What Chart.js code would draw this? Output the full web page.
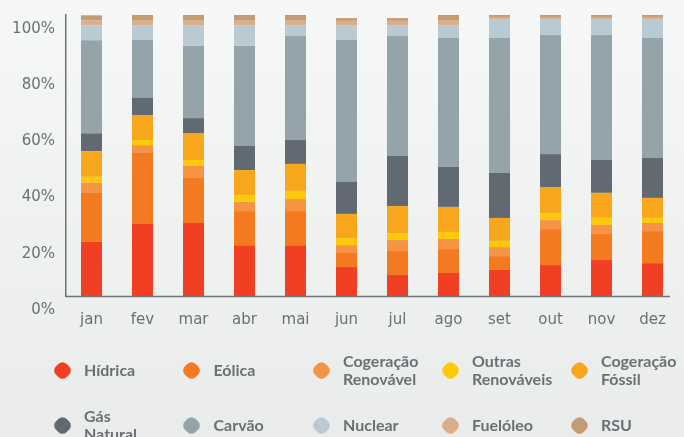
<!DOCTYPE html>
<html>
<head>
<meta charset="utf-8">
<script src="https://cdn.jsdelivr.net/npm/chart.js@4/dist/chart.umd.min.js"></script>
<style>
  html, body { margin: 0; padding: 0; }
  body {
    width: 684px; height: 437px; overflow: hidden; position: relative;
    background: linear-gradient(#f6f7f7, #eaeceb);
  }
  #wrap { position: absolute; left: 0; top: 0; width: 684px; height: 340px; }
  #legend { position: absolute; left: 0; top: 0; width: 684px; height: 437px; pointer-events: none; }
  .item { position: absolute; display: flex; align-items: center; transform: translateY(-50%); }
  .mk { width: 15px; height: 15px; border-radius: 5.5px; transform: rotate(45deg); margin-left: -7.5px; flex: none; }
  .tx { margin-left: 14.5px; font-family: Lato, sans-serif; font-weight: 700; font-size: 16px; line-height: 18px; color: #6a7075; white-space: nowrap; }
</style>
</head>
<body>
<div id="wrap"><canvas id="c" width="684" height="340"></canvas></div>
<div id="legend"></div>
<script>
const months = ['jan','fev','mar','abr','mai','jun','jul','ago','set','out','nov','dez'];
const yTicks = [0, 20, 40, 60, 80, 100];

const hidrica      = [19.3, 25.6, 26.0, 18.1, 18.1, 10.3, 7.5, 8.2, 9.3, 11.0, 12.8, 11.7];
const eolica       = [17.4, 25.6, 16.3, 12.1, 12.1, 5.0, 8.5, 8.5, 4.9, 12.8, 9.3, 11.4];
const cogRenovavel = [3.6, 2.5, 4.0, 3.3, 4.3, 2.8, 3.9, 3.6, 3.2, 3.2, 3.2, 2.9];
const outrasRenov  = [2.1, 1.8, 2.1, 2.4, 2.9, 2.5, 2.5, 2.5, 2.2, 2.5, 2.5, 1.8];
const cogFossil    = [9.1, 8.9, 9.6, 8.9, 9.6, 8.6, 9.6, 8.9, 8.2, 9.3, 8.9, 7.1];
const gasNatural   = [6.4, 6.1, 5.3, 8.6, 8.5, 11.4, 17.8, 14.2, 16.0, 11.7, 11.7, 14.2];
const carvao       = [33.1, 20.6, 25.7, 35.6, 37.0, 50.5, 42.7, 45.9, 48.0, 42.4, 44.5, 42.7];
const nuclear      = [5.3, 5.3, 7.4, 7.4, 3.9, 5.3, 3.9, 4.6, 6.8, 5.7, 5.7, 6.8];
const fueloleo     = [1.8, 1.8, 1.8, 1.8, 1.8, 1.5, 1.5, 1.8, 0.7, 0.7, 0.7, 0.7];
const rsu          = [1.8, 1.8, 1.8, 1.8, 1.8, 1.0, 1.0, 1.8, 0.7, 0.7, 0.7, 0.7];

const seriesNames = ['Hídrica', 'Eólica', 'Cogeração\nRenovável', 'Outras\nRenováveis', 'Cogeração\nFóssil',
                     'Gás\nNatural', 'Carvão', 'Nuclear', 'Fuelóleo', 'RSU'];
const seriesData = [hidrica, eolica, cogRenovavel, outrasRenov, cogFossil, gasNatural, carvao, nuclear, fueloleo, rsu];
const seriesColors = ['#f03f22', '#f47a20', '#f69444', '#fec90b', '#f8a61c',
                      '#616a72', '#95a3aa', '#b9cad3', '#d8ae8b', '#c49c74'];

const axisColor = '#6e7377';
const textColor = '#6a7075';

const xAxisLine = {
  id: 'xAxisLine',
  afterDatasetsDraw(chart) {
    const a = chart.chartArea, ctx = chart.ctx;
    ctx.save();
    ctx.strokeStyle = axisColor;
    ctx.lineWidth = 1.5;
    ctx.beginPath();
    ctx.moveTo(a.left, a.bottom + 0.5);
    ctx.lineTo(a.right - 8, a.bottom + 0.5);
    ctx.stroke();
    ctx.restore();
  }
};

new Chart(document.getElementById('c'), {
  type: 'bar',
  data: {
    labels: months,
    datasets: seriesData.map((d, i) => ({
      label: seriesNames[i].replace('\n', ' '),
      data: d,
      backgroundColor: seriesColors[i],
      borderWidth: 0,
      barPercentage: 0.412,
      categoryPercentage: 1.0
    }))
  },
  options: {
    responsive: false,
    devicePixelRatio: 1,
    animation: false,
    layout: { padding: { top: 15, right: 6, left: 0, bottom: 0 } },
    plugins: { legend: { display: false }, tooltip: { enabled: false } },
    scales: {
      x: {
        stacked: true,
        grid: { display: false, drawTicks: false },
        border: { display: false },
        ticks: { color: textColor, font: { family: 'DejaVu Sans', size: 15 }, padding: 15 },
        afterFit(s) { s.height = 44; s.paddingLeft = 0; s.paddingRight = 0; }
      },
      y: {
        stacked: true,
        min: 0, max: 100,
        afterBuildTicks(s) { s.ticks = yTicks.map(v => ({ value: v })); },
        grid: { display: false, drawTicks: false },
        border: { display: true, color: axisColor, width: 1.5 },
        ticks: {
          color: textColor, font: { family: 'DejaVu Sans', size: 15 },
          padding: 11, labelOffset: 14,
          callback: v => v + '%'
        },
        afterFit(s) { s.width = 66; s.paddingTop = 0; s.paddingBottom = 0; }
      }
    }
  },
  plugins: [xAxisLine]
});

// HTML legend built from the series
const legend = document.getElementById('legend');
const colX = [62, 191.5, 321, 450, 579];
const rowY = [370, 425];
seriesNames.forEach((name, i) => {
  const it = document.createElement('div');
  it.className = 'item';
  it.style.left = colX[i % 5] + 'px';
  it.style.top = rowY[Math.floor(i / 5)] + 'px';
  const mk = document.createElement('div');
  mk.className = 'mk';
  mk.style.background = seriesColors[i];
  const tx = document.createElement('div');
  tx.className = 'tx';
  tx.innerHTML = name.split('\n').join('<br>');
  it.appendChild(mk); it.appendChild(tx);
  legend.appendChild(it);
});
</script>
</body>
</html>
